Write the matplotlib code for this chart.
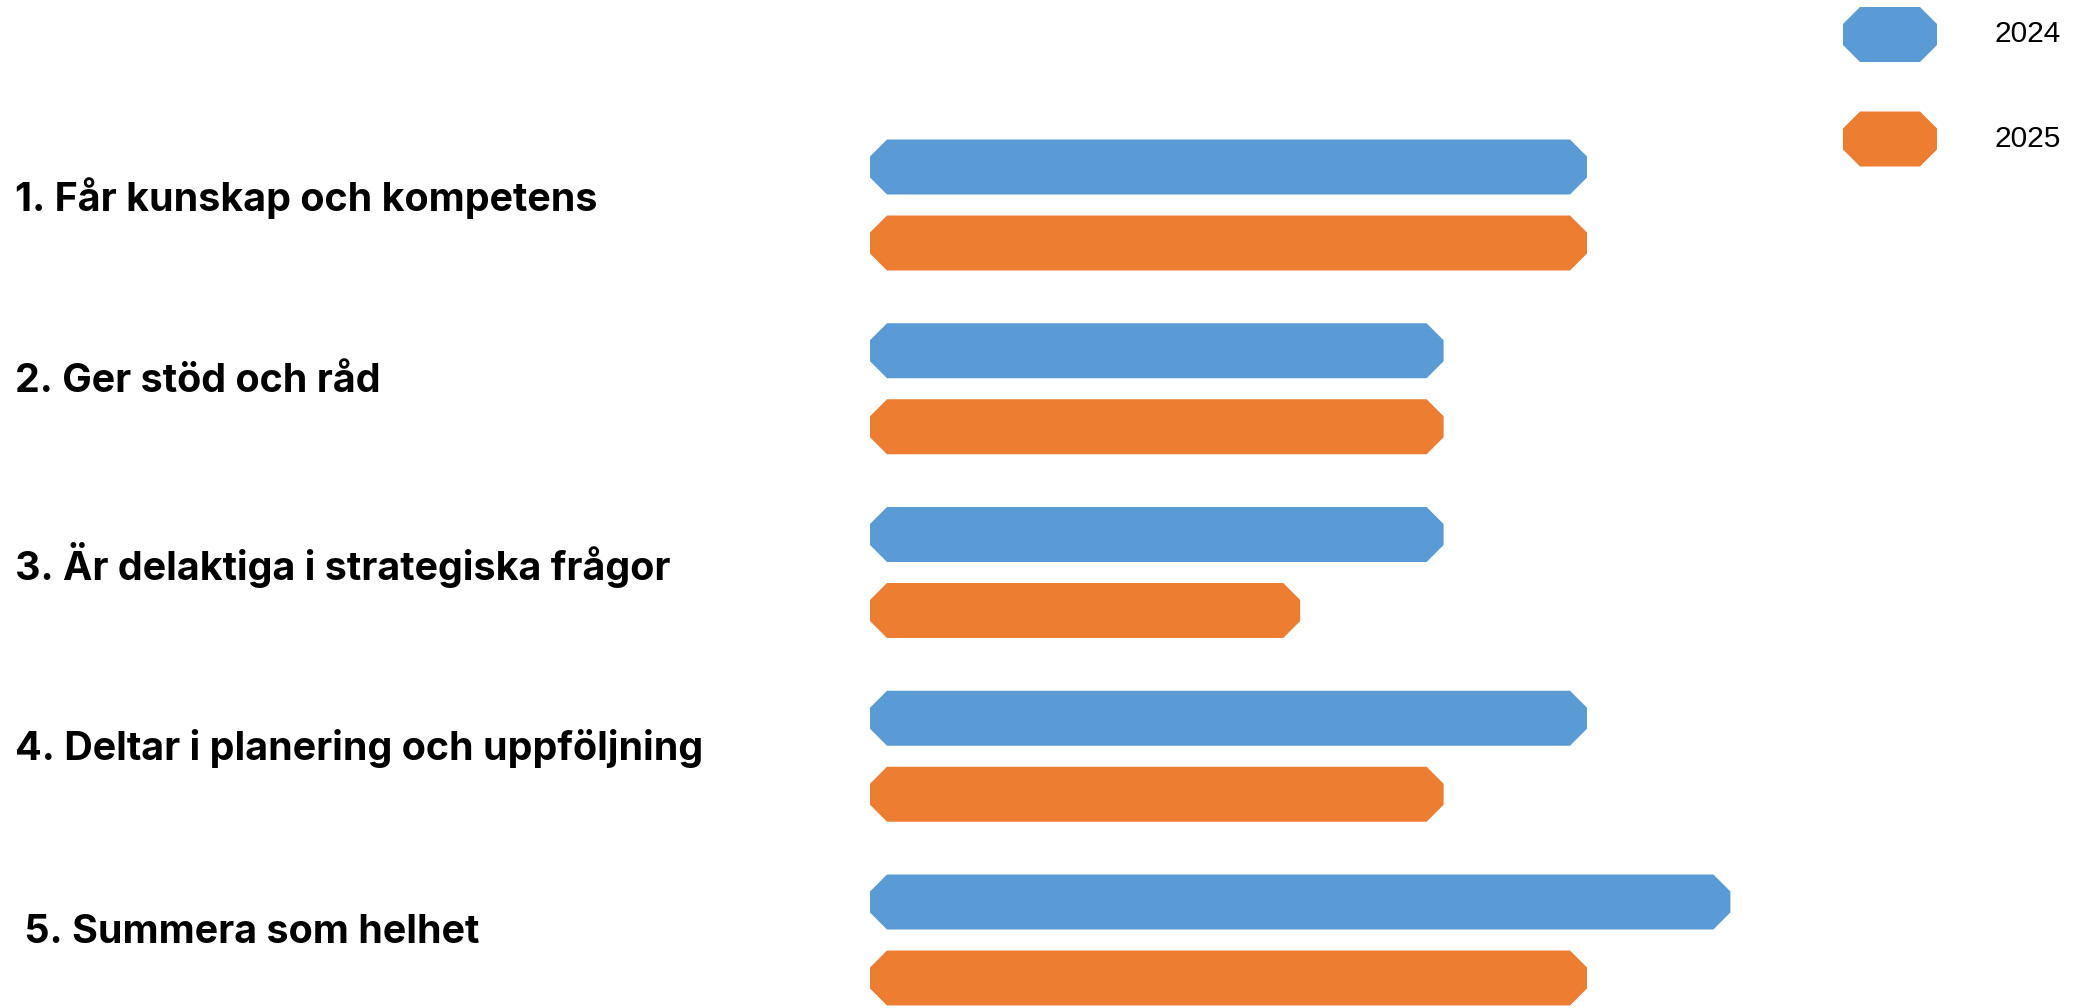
import numpy as np
import matplotlib.pyplot as plt
from matplotlib.patches import Polygon

categories = [
    "1. Får kunskap och kompetens",
    "2. Ger stöd och råd",
    "3. Är delaktiga i strategiska frågor",
    "4. Deltar i planering och uppföljning",
    " 5. Summera som helhet",
]
series_names = ["2024", "2025"]
values_2024 = [5, 4, 4, 5, 6]
values_2025 = [5, 4, 3, 4, 5]
colors = ["#5B9BD5", "#ED7D31"]

W, H, DPI = 2097, 1008, 100

# layout in pixels
x0_px, unit_px = 870, 143.4          # value 0 position, px per unit
y0_px, row_px = 205, 183.75          # first group center, px per group
offset = 38 / row_px                 # bar offset from group center
bar_h = 55 / row_px
cham_px = 17


def px_x(p):
    return (p - x0_px) / unit_px


def px_y(p):
    return (p - y0_px) / row_px


def chamfer_bar(ax, x_left, x_right, yc, h, color):
    cx = cham_px / unit_px
    cy = cham_px / row_px
    top, bot = yc - h / 2, yc + h / 2
    verts = [
        (x_left + cx, top), (x_right - cx, top),
        (x_right, top + cy), (x_right, bot - cy),
        (x_right - cx, bot), (x_left + cx, bot),
        (x_left, bot - cy), (x_left, top + cy),
    ]
    ax.add_patch(Polygon(verts, closed=True, facecolor=color,
                         edgecolor="none"))


fig = plt.figure(figsize=(W / DPI, H / DPI), dpi=DPI)
ax = fig.add_axes([0, 0, 1, 1])
ax.set_xlim(px_x(0), px_x(W))
ax.set_ylim(px_y(H), px_y(0))
ax.axis("off")

y = np.arange(len(categories))
for i, (v1, v2) in enumerate(zip(values_2024, values_2025)):
    chamfer_bar(ax, 0, v1, y[i] - offset, bar_h, colors[0])
    chamfer_bar(ax, 0, v2, y[i] + offset, bar_h, colors[1])
    ax.text(px_x(15), y[i] - 0.04, categories[i], ha="left", va="center",
            fontsize=28.4, fontweight="bold", family=["Inter", "DejaVu Sans"],
            color="black")

# legend
leg_y = [34.5, 139]
for name, col, ly in zip(series_names, colors, leg_y):
    chamfer_bar(ax, px_x(1843), px_x(1937), px_y(ly), 55 / row_px, col)
    ax.text(px_x(1994), px_y(ly), name, ha="left", va="center",
            fontsize=21.5, family=["Liberation Sans", "DejaVu Sans"],
            color="black")

fig.savefig("out.png", dpi=DPI)
